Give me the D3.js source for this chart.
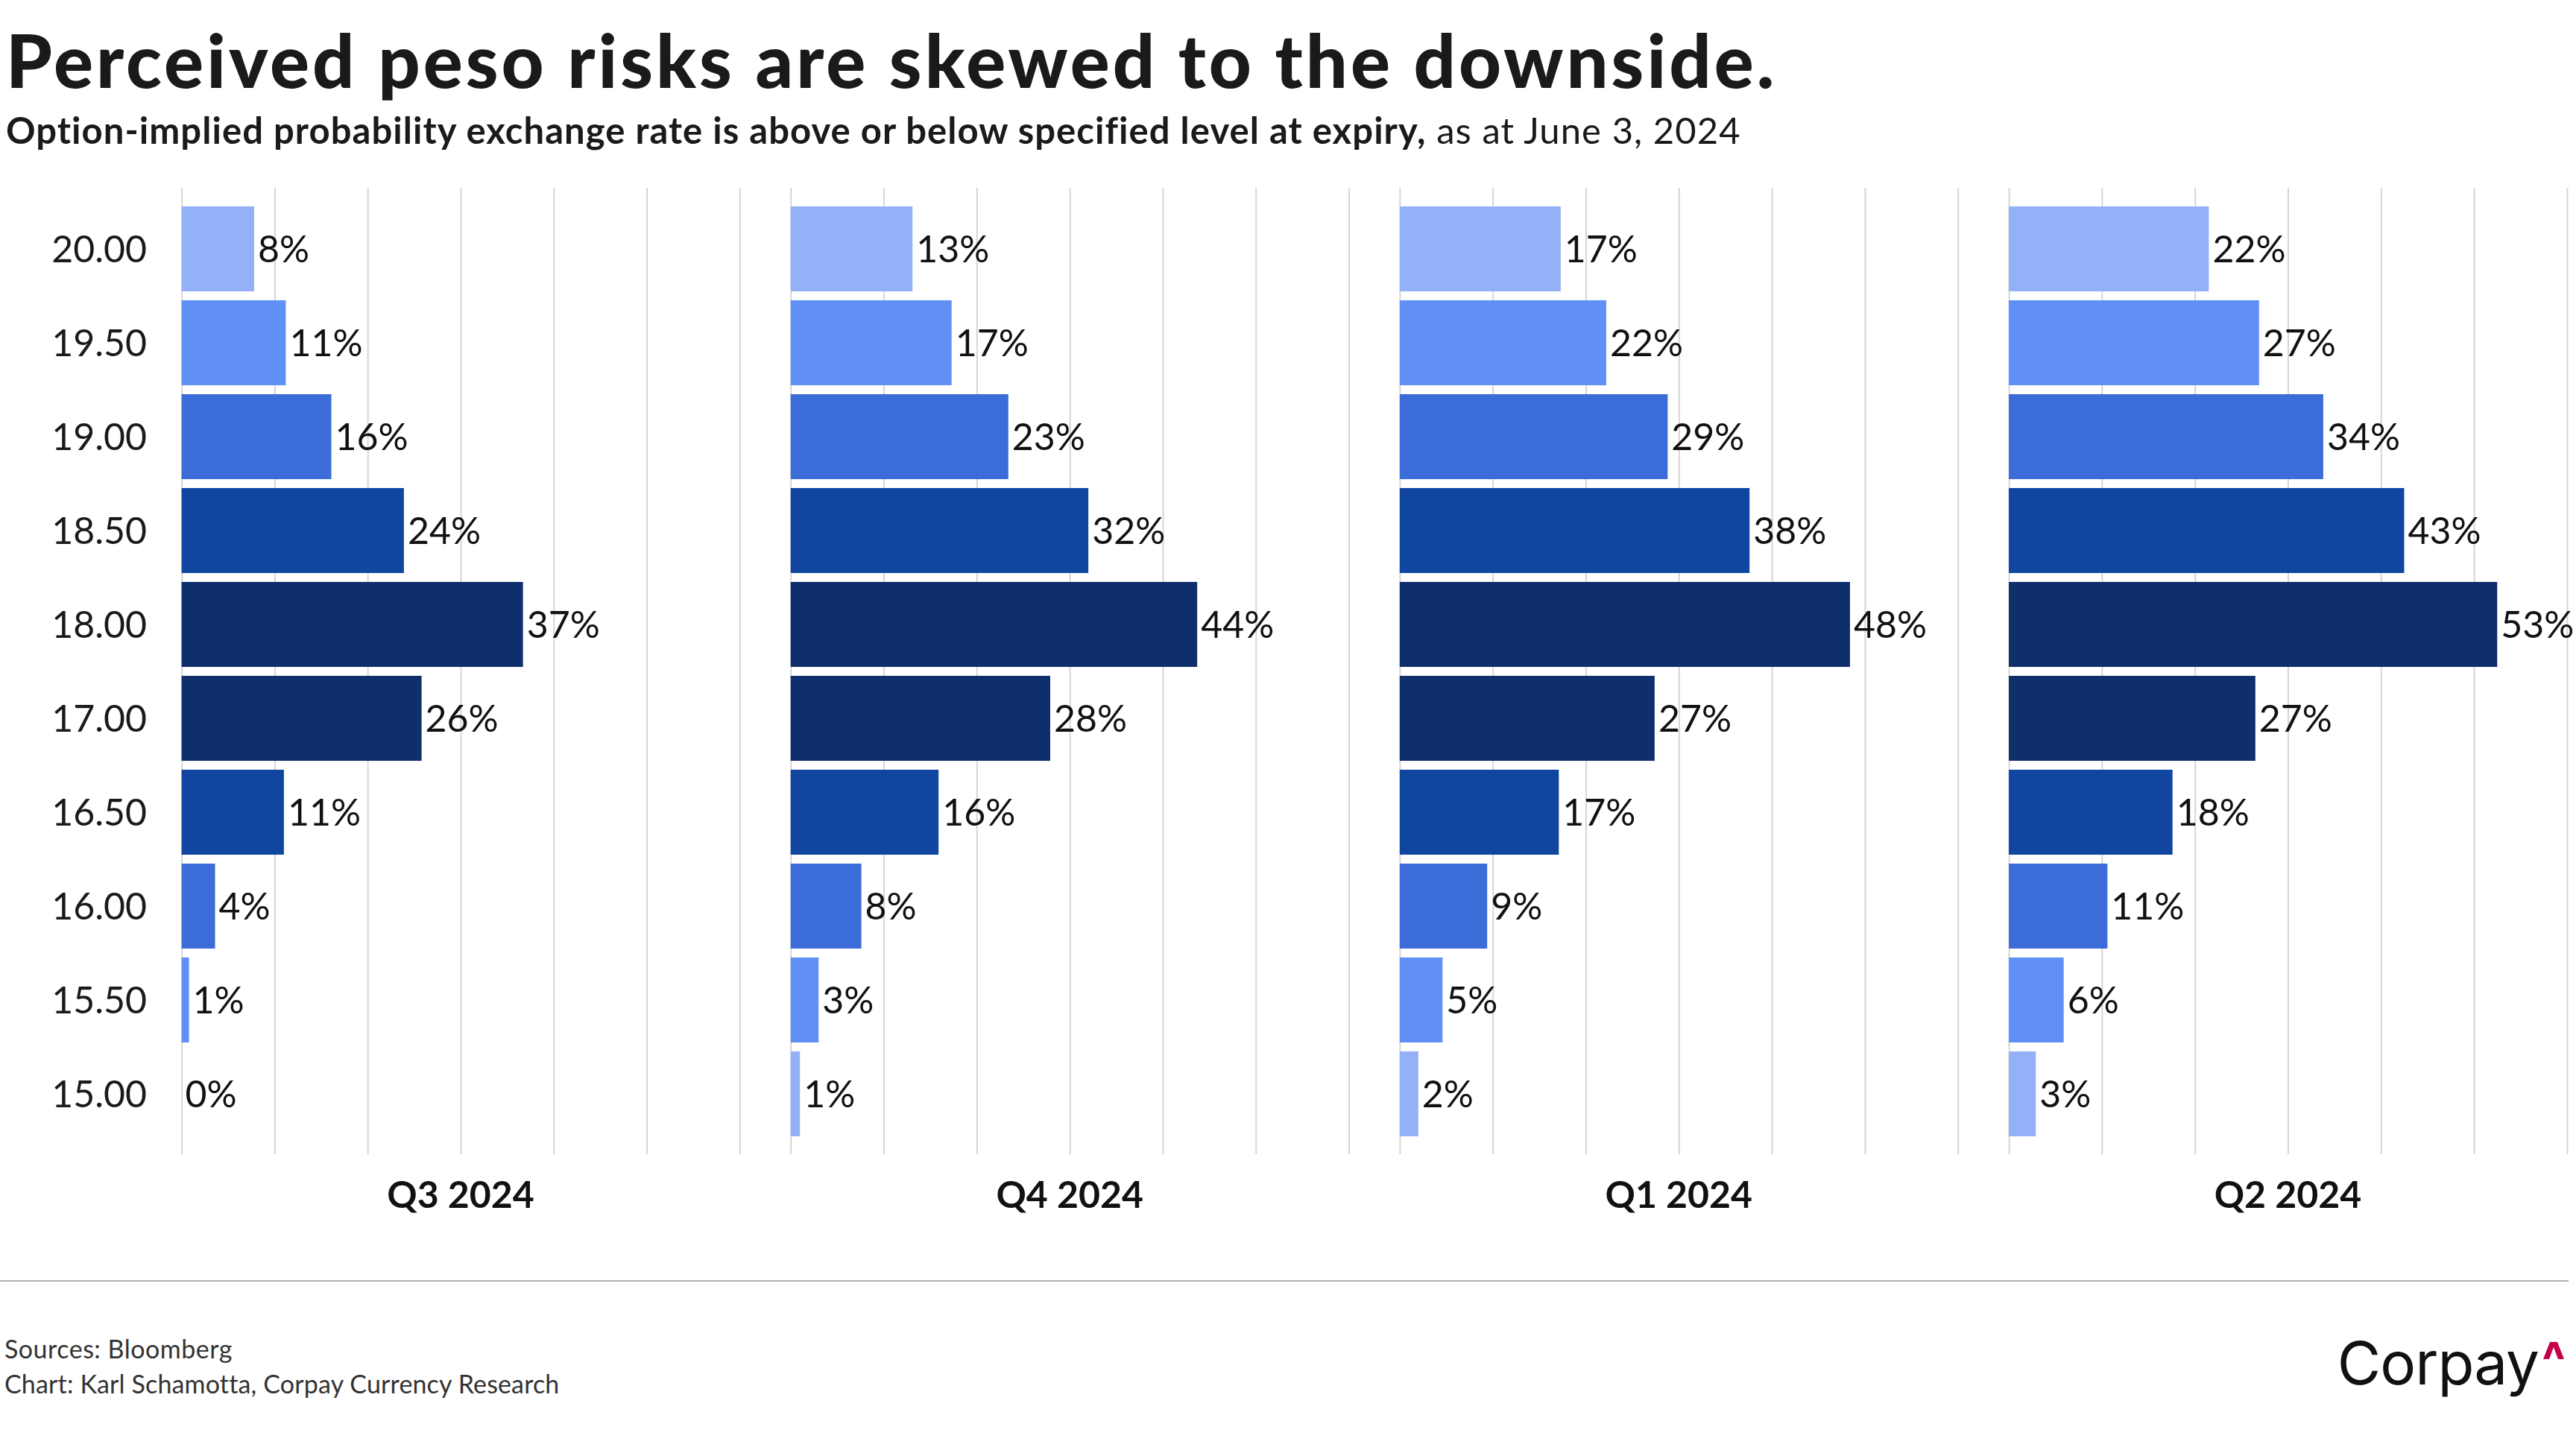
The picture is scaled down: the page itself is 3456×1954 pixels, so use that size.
<!DOCTYPE html>
<html>
<head>
<meta charset="utf-8">
<script src="https://cdn.jsdelivr.net/npm/d3@7"></script>
<style>
  html, body { margin: 0; padding: 0; background: #fff; }
  svg { display: block; font-family: Lato, "Noto Sans", sans-serif; }
</style>
</head>
<body>
<div class="chart"></div>
<script>
var levels = ["20.00", "19.50", "19.00", "18.50", "18.00", "17.00", "16.50", "16.00", "15.50", "15.00"];
var quarters = ["Q3 2024", "Q4 2024", "Q1 2024", "Q2 2024"];
var q3 = [7.8, 11.2, 16.1, 23.9, 36.7, 25.8, 11.0, 3.6, 0.8, 0];
var q4 = [13.1, 17.3, 23.4, 32.0, 43.7, 27.9, 15.9, 7.6, 3.0, 1.0];
var q1 = [17.3, 22.2, 28.8, 37.6, 48.4, 27.4, 17.1, 9.4, 4.6, 2.0];
var q2 = [21.5, 26.9, 33.8, 42.5, 52.5, 26.5, 17.6, 10.6, 5.9, 2.9];
var xTicks = [0, 10, 20, 30, 40, 50, 60];
var rowColors = ["#94b1f8", "#6090f5", "#3b6cd7", "#1045a0", "#0e2e6c",
                 "#0e2e6c", "#1045a0", "#3b6cd7", "#6090f5", "#94b1f8"];

var series = [q3, q4, q1, q2];

var svgWidth = 3456;
var svgHeight = 1954;

var svg = d3.select(".chart")
    .append("svg")
    .attr("width", svgWidth)
    .attr("height", svgHeight);

// panels side by side
var panelScale = d3.scaleBand()
    .domain(quarters)
    .range([243.6, 3443.9])
    .paddingInner(0.0836);

var xScale = d3.scaleLinear()
    .domain([0, 60])
    .range([0, panelScale.bandwidth()]);

var yScale = d3.scaleBand()
    .domain(levels)
    .range([271, 1531])
    .paddingInner(0.095)
    .paddingOuter(0.0475);

var gridTop = 252, gridBottom = 1549;

// title + subtitle
svg.append("text")
    .attr("x", 8)
    .attr("y", 118)
    .attr("font-size", 99)
    .attr("font-weight", 900)
    .attr("letter-spacing", 4)
    .attr("fill", "#1a1a1a")
    .text("Perceived peso risks are skewed to the downside.");

var sub = svg.append("text")
    .attr("x", 8)
    .attr("y", 193)
    .attr("font-size", 49)
    .attr("letter-spacing", 1.05)
    .attr("fill", "#1a1a1a");
sub.append("tspan")
    .attr("font-weight", 700)
    .text("Option-implied probability exchange rate is above or below specified level at expiry,");
sub.append("tspan")
    .attr("font-weight", 400)
    .text(" as at June 3, 2024");

// y labels
svg.append("g")
    .selectAll("text")
    .data(levels)
    .join("text")
    .attr("x", 197)
    .attr("y", d => yScale(d) + yScale.bandwidth() / 2)
    .attr("dy", "0.36em")
    .attr("text-anchor", "end")
    .attr("font-size", 50)
    .attr("fill", "#1a1a1a")
    .text(d => d);

quarters.forEach(function(q, i) {
    var panel = svg.append("g")
        .attr("transform", `translate(${panelScale(q)}, 0)`);

    var gridAxis = d3.axisBottom(xScale)
        .tickValues(xTicks)
        .tickSize(-(gridBottom - gridTop))
        .tickFormat("");
    var grid = panel.append("g")
        .attr("transform", `translate(0, ${gridBottom})`)
        .call(gridAxis);
    grid.select(".domain").remove();
    grid.selectAll("line")
        .attr("stroke", "#d6d6d6")
        .attr("stroke-width", 2);

    var vals = series[i];
    panel.selectAll("rect")
        .data(vals)
        .join("rect")
        .attr("x", 0)
        .attr("y", (d, j) => yScale(levels[j]))
        .attr("width", d => xScale(d))
        .attr("height", yScale.bandwidth())
        .attr("fill", (d, j) => rowColors[j]);

    panel.selectAll("text.val")
        .data(vals)
        .join("text")
        .attr("class", "val")
        .attr("x", d => xScale(d) + 5)
        .attr("y", (d, j) => yScale(levels[j]) + yScale.bandwidth() / 2)
        .attr("dy", "0.36em")
        .attr("font-size", 50)
        .attr("fill", "#111")
        .text(d => Math.round(d) + "%");

    panel.append("text")
        .attr("x", xScale(30))
        .attr("y", 1621)
        .attr("text-anchor", "middle")
        .attr("font-size", 50)
        .attr("font-weight", 700)
        .attr("fill", "#111")
        .text(q);
});

// footer
svg.append("line")
    .attr("x1", 0)
    .attr("x2", 3446)
    .attr("y1", 1719)
    .attr("y2", 1719)
    .attr("stroke", "#b3b3b3")
    .attr("stroke-width", 2);

svg.append("text")
    .attr("x", 6)
    .attr("y", 1823)
    .attr("font-size", 34)
    .attr("letter-spacing", 0.5)
    .attr("fill", "#333")
    .text("Sources: Bloomberg");
svg.append("text")
    .attr("x", 6)
    .attr("y", 1870)
    .attr("font-size", 34)
    .attr("letter-spacing", 0.15)
    .attr("fill", "#333")
    .text("Chart: Karl Schamotta, Corpay Currency Research");

// logo
svg.append("text")
    .attr("x", 3406)
    .attr("y", 1858)
    .attr("text-anchor", "end")
    .attr("font-family", "Inter, sans-serif")
    .attr("font-size", 80)
    .attr("letter-spacing", -1)
    .attr("fill", "#111")
    .text("Corpay");
svg.append("path")
    .attr("d", "M3412,1824 L3421,1801 L3431,1801 L3440,1824 L3432,1824 L3426,1808 L3420,1824 Z")
    .attr("fill", "#c4004b");
</script>
</body>
</html>
